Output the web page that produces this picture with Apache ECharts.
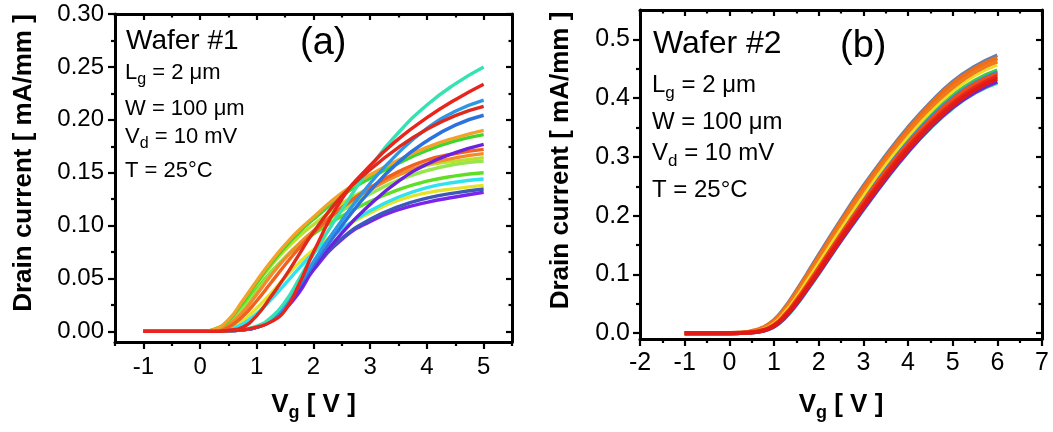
<!DOCTYPE html>
<html><head><meta charset="utf-8">
<script src="https://cdn.jsdelivr.net/npm/echarts@6/dist/echarts.min.js"></script>
<style>html,body{margin:0;padding:0;background:#fff}#c{width:1053px;height:432px}</style>
</head><body><div id="c"></div>
<script>
// ---------- Panel (a) data : Wafer #1 ----------
const vgWafer1 = [-1,-0.5,0,0.25,0.5,0.75,1,1.25,1.5,1.75,2,2.5,3,3.5,4,4.5,5];
const w1_purple    = [0,0,0,0,0.0005,0.0015,0.004,0.01,0.021,0.037,0.058,0.087,0.104,0.115,0.122,0.127,0.1315];
const w1_navy      = [0,0,0,0,0.0005,0.0015,0.004,0.011,0.023,0.04,0.06,0.088,0.106,0.118,0.126,0.131,0.1346];
const w1_yellow    = [0,0,0,0,0.003,0.01,0.022,0.036,0.051,0.065,0.077,0.097,0.112,0.124,0.131,0.135,0.138];
const w1_cyan      = [0,0,0,0,0.002,0.007,0.017,0.03,0.045,0.06,0.074,0.097,0.114,0.127,0.136,0.141,0.144];
const w1_green2    = [0,0,0,0.001,0.008,0.023,0.04,0.056,0.07,0.082,0.092,0.109,0.123,0.134,0.142,0.147,0.15];
const w1_lightgreen= [0,0,0,0.001,0.007,0.021,0.038,0.055,0.07,0.083,0.094,0.114,0.13,0.143,0.152,0.158,0.161];
const w1_yellowgrn = [0,0,0,0.002,0.01,0.027,0.045,0.062,0.077,0.09,0.101,0.121,0.136,0.148,0.157,0.161,0.1643];
const w1_orange2   = [0,0,0,0.001,0.006,0.018,0.035,0.053,0.069,0.083,0.095,0.117,0.134,0.148,0.158,0.164,0.168];
const w1_orangered = [0,0,0,0,0.004,0.014,0.029,0.046,0.063,0.079,0.093,0.117,0.136,0.151,0.162,0.168,0.172];
const w1_violet    = [0,0,0,0,0.0005,0.0015,0.004,0.01,0.022,0.04,0.06,0.093,0.12,0.142,0.158,0.169,0.1768];
const w1_green1    = [0,0,0,0.002,0.01,0.027,0.046,0.064,0.08,0.094,0.106,0.128,0.145,0.159,0.171,0.18,0.186];
const w1_orange1   = [0,0,0,0.002,0.011,0.029,0.048,0.066,0.082,0.096,0.108,0.131,0.148,0.162,0.174,0.183,0.19];
const w1_blue2     = [0,0,0,0,0.0005,0.0015,0.004,0.011,0.024,0.043,0.063,0.1,0.133,0.16,0.18,0.195,0.2043];
const w1_blue1     = [0,0,0,0,0.0005,0.0015,0.004,0.011,0.025,0.045,0.066,0.105,0.14,0.169,0.192,0.208,0.2186];
const w1_aqua      = [0,0,0,0,0.0005,0.002,0.005,0.013,0.028,0.05,0.073,0.115,0.155,0.188,0.214,0.234,0.25];
const w1_red2      = [0,0,0,0,0.001,0.004,0.015,0.033,0.052,0.073,0.094,0.128,0.153,0.174,0.191,0.204,0.2127];
const w1_red1      = [0,0,0,0,0.0005,0.0015,0.004,0.009,0.02,0.045,0.075,0.125,0.157,0.182,0.202,0.219,0.2336];
const wafer1Curves = [w1_purple,w1_navy,w1_yellow,w1_cyan,w1_green2,w1_lightgreen,w1_yellowgrn,w1_orange2,
  w1_orangered,w1_violet,w1_green1,w1_orange1,w1_blue2,w1_blue1,w1_aqua,w1_red2,w1_red1];
const wafer1Colors = ['#7a24ee','#3c58b8','#e6e428','#2ee2f0','#5ede24','#96e64e','#b8e22e','#f48a2c',
  '#f0601e','#6c22dc','#3ed62e','#f2a22a','#2c72de','#2e96e6','#36e2b4','#dc2a1c','#e8241c'];

// ---------- Panel (b) data : Wafer #2 ----------
const vgWafer2 = [-1,-0.5,0,0.25,0.5,0.75,1,1.25,1.5,1.75,2,2.5,3,3.5,4,4.5,5,5.5,6];
const w2_slate     = [0,0,0,0.0005,0.003,0.009,0.022,0.044,0.072,0.102,0.133,0.193,0.25,0.302,0.35,0.392,0.428,0.454,0.473];
const w2_teal      = [0,0,0,0.0002,0.001,0.004,0.011,0.026,0.048,0.074,0.101,0.157,0.21,0.261,0.308,0.349,0.383,0.409,0.426];
const w2_purple    = [0,0,0,0.0002,0.001,0.004,0.011,0.027,0.049,0.075,0.102,0.158,0.211,0.262,0.309,0.35,0.384,0.41,0.428];
const w2_green     = [0,0,0,0.0003,0.002,0.006,0.016,0.035,0.06,0.088,0.117,0.175,0.23,0.282,0.329,0.37,0.404,0.43,0.447];
const w2_blue      = [0,0,0,0.0003,0.0018,0.0055,0.015,0.033,0.058,0.085,0.114,0.171,0.226,0.278,0.325,0.366,0.4,0.426,0.444];
const w2_orange1   = [0,0,0,0.0005,0.003,0.009,0.021,0.042,0.069,0.099,0.129,0.189,0.246,0.298,0.346,0.388,0.424,0.45,0.468];
const w2_orange2   = [0,0,0,0.0004,0.0025,0.008,0.019,0.04,0.066,0.095,0.125,0.184,0.24,0.292,0.34,0.382,0.417,0.444,0.462];
const w2_yellow    = [0,0,0,0.0003,0.002,0.007,0.017,0.037,0.062,0.091,0.12,0.178,0.234,0.287,0.334,0.376,0.411,0.438,0.456];
const w2_redorange = [0,0,0,0.0003,0.0015,0.005,0.014,0.032,0.056,0.083,0.111,0.168,0.223,0.275,0.322,0.363,0.397,0.424,0.441];
const w2_red1      = [0,0,0,0.0002,0.0015,0.005,0.013,0.03,0.053,0.079,0.107,0.164,0.218,0.27,0.317,0.357,0.391,0.418,0.437];
const w2_red2      = [0,0,0,0.0002,0.001,0.004,0.012,0.028,0.051,0.077,0.104,0.16,0.214,0.265,0.312,0.353,0.387,0.414,0.433];
const wafer2Curves = [w2_slate,w2_teal,w2_purple,w2_green,w2_blue,w2_orange1,w2_orange2,w2_yellow,w2_redorange,w2_red1,w2_red2];
const wafer2Colors = ['#6a7fa8','#3ce8a8','#7028d0','#46c846','#3a8ad6','#f06e18','#f07a1c','#f0dc20','#f04c1a','#e8261a','#e01a16'];
const wafer2Widths = [4,4,4,4,4,4.5,4,2.6,4,4,4];

// ---------- Tick values ----------
const xTicksA = [-1,0,1,2,3,4,5];
const xMinorA = [-1.5,-0.5,0.5,1.5,2.5,3.5,4.5,5.5];
const yTicksA = [0,0.05,0.1,0.15,0.2,0.25,0.3];
const yMinorA = [0.025,0.075,0.125,0.175,0.225,0.275];
const xTicksB = [-2,-1,0,1,2,3,4,5,6,7];
const xMinorB = [-1.5,-0.5,0.5,1.5,2.5,3.5,4.5,5.5,6.5];
const yTicksB = [0,0.1,0.2,0.3,0.4,0.5];
const yMinorB = [0.05,0.15,0.25,0.35,0.45];

const FONT = '"Liberation Sans", Arial, sans-serif';
const chart = echarts.init(document.getElementById('c'), null, {renderer:'canvas'});

function ax(grid, min, max, pos, ticks, inside, len, labels, lineShow, extra) {
  return Object.assign({
    type:'value', gridIndex:grid, min, max, position:pos,
    axisLine:{show:lineShow, onZero:false, lineStyle:{color:'#000', width:3}},
    axisTick:{show:true, inside, length:len, customValues:ticks, lineStyle:{color:'#000', width:2.2}},
    axisLabel:labels ? {show:true, customValues:ticks, color:'#000', fontFamily:FONT, fontSize:labels.size, margin:labels.margin,
      formatter: labels.fmt} : {show:false},
    splitLine:{show:false}
  }, extra || {});
}

const subName = (main, sub, rest, size, subSize, pad) => ({
  text: '{b|' + main + '}{s|' + sub + '}{b|' + rest + '}',
  rich: {b:{fontSize:size, fontWeight:'bold', fontFamily:FONT, color:'#000'},
         s:{fontSize:subSize, fontWeight:'bold', fontFamily:FONT, color:'#000', padding:[pad,0,0,0]}}
});
const xNameA = subName('V','g',' [ V ]',26,18,16);
const xNameB = subName('V','g',' [ V ]',26,18,16);

const xAxes = [
  ax(0,-1.5,5.5,'bottom',xTicksA,false,7,{size:24,margin:13,fmt:v=>String(v)},true,
    {name:xNameA.text, nameLocation:'middle', nameGap:46, nameTextStyle:{rich:xNameA.rich}}),
  ax(0,-1.5,5.5,'bottom',xMinorA,false,4,null,false),
  ax(0,-1.5,5.5,'top',xTicksA,true,6,null,true),
  ax(0,-1.5,5.5,'top',xMinorA,true,3.5,null,false),
  ax(1,-2,7,'bottom',xTicksB,false,7,{size:25,margin:12,fmt:v=>String(v)},true,
    {name:xNameB.text, nameLocation:'middle', nameGap:49, nameTextStyle:{rich:xNameB.rich}}),
  ax(1,-2,7,'bottom',xMinorB,false,4,null,false),
  ax(1,-2,7,'top',xTicksB,true,6,null,true),
  ax(1,-2,7,'top',xMinorB,true,3.5,null,false)
];
const yAxes = [
  ax(0,-0.01,0.30,'left',yTicksA,false,7,{size:24,margin:11,fmt:v=>v.toFixed(2)},true,
    {name:'Drain current [ mA/mm ]', nameLocation:'middle', nameGap:78, nameRotate:90,
     nameTextStyle:{fontSize:26, fontWeight:'bold', fontFamily:FONT, color:'#000', padding:[0,0,0,30]}}),
  ax(0,-0.01,0.30,'left',yMinorA,false,4,null,false),
  ax(0,-0.01,0.30,'right',yTicksA,true,6,null,true),
  ax(0,-0.01,0.30,'right',yMinorA,true,3.5,null,false),
  ax(1,-0.01,0.55,'left',yTicksB,false,7,{size:25,margin:10,fmt:v=>v.toFixed(1)},true,
    {name:'Drain current [ mA/mm ]', nameLocation:'middle', nameGap:66, nameRotate:90,
     nameTextStyle:{fontSize:26, fontWeight:'bold', fontFamily:FONT, color:'#000', padding:[0,0,0,28]}}),
  ax(1,-0.01,0.55,'left',yMinorB,false,4,null,false),
  ax(1,-0.01,0.55,'right',yTicksB,true,6,null,true),
  ax(1,-0.01,0.55,'right',yMinorB,true,3.5,null,false)
];

const series = [];
wafer1Curves.forEach((ys,i)=>series.push({
  type:'line', xAxisIndex:0, yAxisIndex:0, data:vgWafer1.map((x,k)=>[x,ys[k]]),
  showSymbol:false, smooth:0.5, clip:false, silent:true,
  lineStyle:{color:wafer1Colors[i], width:3.4}, itemStyle:{color:wafer1Colors[i]}
}));
wafer2Curves.forEach((ys,i)=>series.push({
  type:'line', xAxisIndex:4, yAxisIndex:4, data:vgWafer2.map((x,k)=>[x,ys[k]]),
  showSymbol:false, smooth:0.5, clip:false, silent:true,
  lineStyle:{color:wafer2Colors[i], width:wafer2Widths[i]}, itemStyle:{color:wafer2Colors[i]}
}));

// ---------- annotation text with subscripts ----------
const mctx = document.createElement('canvas').getContext('2d');
function tw(t, font){ mctx.font = font; return mctx.measureText(t).width; }
function run(x, y, parts) {
  const els = []; let cx = x;
  parts.forEach(p => {
    const font = p.size + 'px ' + FONT;
    els.push({type:'text', x:cx, y:y + (p.dy||0), silent:true,
      style:{text:p.t, font, fill:'#000', align:'left', verticalAlign:'middle', textAlign:'left', textVerticalAlign:'middle'}});
    cx += tw(p.t, font);
  });
  return els;
}
let graphics = [];
// panel (a)
graphics = graphics.concat(run(126, 41, [{t:'Wafer #1', size:28}]));
graphics = graphics.concat(run(300, 44, [{t:'(a)', size:38}]));
graphics = graphics.concat(run(125, 73, [{t:'L', size:22},{t:'g', size:16, dy:7},{t:' = 2 \u03bcm', size:22}]));
graphics = graphics.concat(run(125, 109, [{t:'W = 100 \u03bcm', size:22}]));
graphics = graphics.concat(run(125, 137, [{t:'V', size:22},{t:'d', size:16, dy:7},{t:' = 10 mV', size:22}]));
graphics = graphics.concat(run(125, 171, [{t:'T = 25\u00b0C', size:22}]));
// panel (b)
graphics = graphics.concat(run(653, 44, [{t:'Wafer #2', size:32}]));
graphics = graphics.concat(run(840, 47, [{t:'(b)', size:38}]));
graphics = graphics.concat(run(652, 85, [{t:'L', size:24},{t:'g', size:17, dy:8},{t:' = 2 \u03bcm', size:24}]));
graphics = graphics.concat(run(652, 122, [{t:'W = 100 \u03bcm', size:24}]));
graphics = graphics.concat(run(652, 153, [{t:'V', size:24},{t:'d', size:17, dy:8},{t:' = 10 mV', size:24}]));
graphics = graphics.concat(run(652, 190, [{t:'T = 25\u00b0C', size:24}]));

chart.setOption({
  animation:false,
  backgroundColor:'#fff',
  textStyle:{fontFamily:FONT},
  grid:[{left:115, top:14, width:397, height:328, containLabel:false},
        {left:640, top:10, width:402, height:329, containLabel:false}],
  xAxis:xAxes, yAxis:yAxes, series, graphic:graphics
});
</script></body></html>
